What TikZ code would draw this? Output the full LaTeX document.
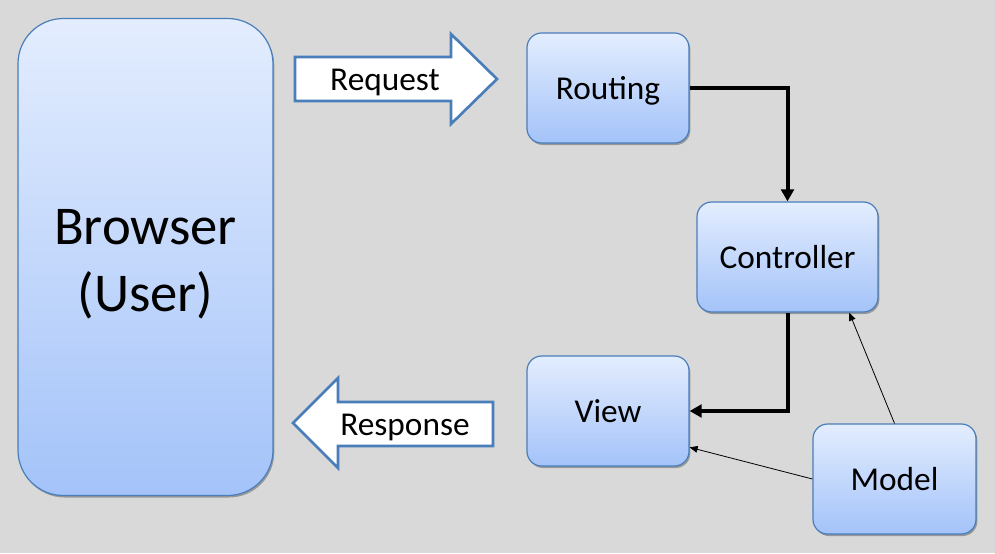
\documentclass[tikz,border=0pt]{standalone}
\usepackage{fontspec}
\setmainfont{Carlito}
\usetikzlibrary{arrows.meta,shadows,calc}
\definecolor{bg}{HTML}{D9D9D9}
\definecolor{boxtop}{HTML}{E3EDFE}
\definecolor{boxbot}{HTML}{A4C3F9}
\definecolor{boxline}{HTML}{4A7EBB}
\begin{document}
\begin{tikzpicture}[x=0.75pt,y=-0.75pt,
  mvcbox/.style={draw=boxline, line width=0.9pt, top color=boxtop, bottom color=boxbot,
    rounded corners=11pt, inner sep=0pt, font=\fontsize{25}{30}\selectfont,
    text height=23.5pt, text depth=6pt,
    drop shadow={shadow xshift=1pt, shadow yshift=-1.5pt, opacity=0.3, fill=black}},
  bigarrow/.style={draw=boxline, line width=2pt, fill=white, line join=miter},
  arrowlabel/.style={font=\fontsize{25}{30}\selectfont, inner sep=0pt,
    text height=23.5pt, text depth=6pt},
  thick conn/.style={line width=3pt, -{Triangle[length=9pt,width=9.5pt]}},
  thin conn/.style={line width=0.6pt, -{Triangle[length=6pt,width=5pt]}}]
\fill[bg] (0,0) rectangle (995,553);
\useasboundingbox (0,0) rectangle (995,553);

\node[mvcbox, rounded corners=34pt, minimum width=255*0.75pt, minimum height=477*0.75pt] (browser) at (145.5,257) {};
\node[align=center, inner sep=0pt, font=\fontsize{41}{50}\selectfont] (browsertext) at (145.5,264) {Browser\\(User)};
\node[mvcbox, minimum width=162*0.75pt, minimum height=110*0.75pt] (routing) at (608,88) {Routing};
\node[mvcbox, minimum width=181*0.75pt, minimum height=110*0.75pt] (controller) at (787.5,257) {Controller};
\node[mvcbox, minimum width=162*0.75pt, minimum height=110*0.75pt] (view) at (608,411) {View};
\node[mvcbox, minimum width=163*0.75pt, minimum height=110*0.75pt] (model) at (894.5,479) {Model};

% block arrows
\draw[bigarrow] (295,57) -- (451,57) -- (451,34) -- (497,79) -- (451,124) -- (451,101) -- (295,101) -- cycle;
\node[arrowlabel] (request) at (385,79) {Request};
\draw[bigarrow] (293,423) -- (338,378) -- (338,402) -- (493,402) -- (493,446) -- (338,446) -- (338,468) -- cycle;
\node[arrowlabel] (response) at (405,424) {Response};

% connectors
\draw[thick conn] (routing.east) -| (controller.north);
\draw[thick conn] (controller.south) |- (view.east);
\draw[thin conn] (model.north) -- (controller.-42);
\draw[thin conn] (model.west) -- (view.-24);
\end{tikzpicture}
\end{document}
